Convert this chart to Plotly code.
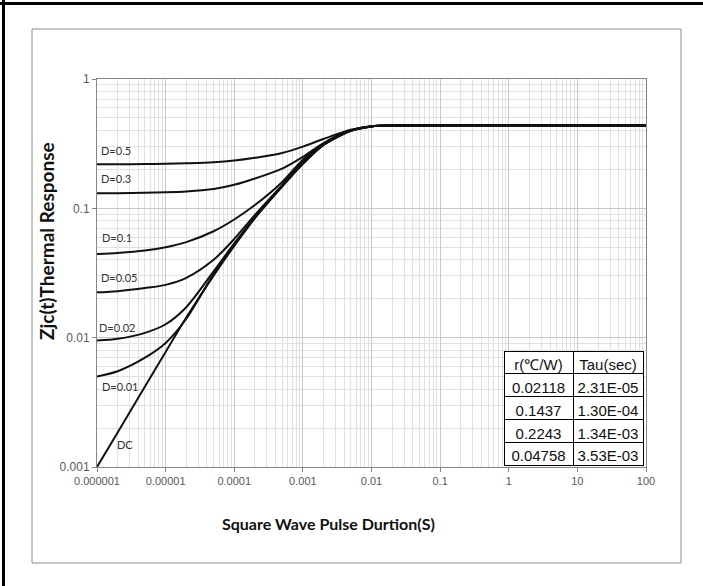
import math
import plotly.graph_objects as go

# Pulse duration grid (s)
t = [1e-6, 2e-6, 5e-6, 1e-5, 2e-5, 5e-5, 1e-4, 2e-4, 5e-4, 1e-3, 2e-3, 5e-3, 1e-2, 2e-2, 100]

# Zjc(t) thermal response per duty cycle
z_d05 = [0.219, 0.219, 0.220, 0.221, 0.223, 0.227, 0.234, 0.246, 0.268, 0.300, 0.344, 0.405, 0.432, 0.437, 0.437]
z_d03 = [0.131, 0.131, 0.132, 0.133, 0.135, 0.141, 0.152, 0.170, 0.203, 0.250, 0.320, 0.400, 0.431, 0.437, 0.437]
z_d01 = [0.0443, 0.0452, 0.0472, 0.0500, 0.0548, 0.0665, 0.0820, 0.106, 0.160, 0.238, 0.317, 0.400, 0.430, 0.437, 0.437]
z_d005 = [0.0224, 0.0229, 0.0242, 0.0256, 0.0290, 0.0400, 0.0580, 0.089, 0.152, 0.230, 0.313, 0.399, 0.430, 0.437, 0.437]
z_d002 = [0.0095, 0.0098, 0.0109, 0.0127, 0.0172, 0.0325, 0.0535, 0.0855, 0.149, 0.223, 0.310, 0.398, 0.430, 0.437, 0.437]
z_d001 = [0.0050, 0.0055, 0.0070, 0.0091, 0.0140, 0.0310, 0.0520, 0.0845, 0.148, 0.221, 0.309, 0.398, 0.430, 0.437, 0.437]
z_dc = [0.0010, 0.00185, 0.0042, 0.00776, 0.0143, 0.0302, 0.0513, 0.0841, 0.148, 0.221, 0.309, 0.398, 0.430, 0.437, 0.437]

series = [
    ("D=0.5", z_d05), ("D=0.3", z_d03), ("D=0.1", z_d01), ("D=0.05", z_d005),
    ("D=0.02", z_d002), ("D=0.01", z_d001), ("DC", z_dc),
]

# Curve label anchors (x, y in data units)
label_pos = {
    "D=0.5": (1.07e-6, 0.282), "D=0.3": (1.07e-6, 0.171), "D=0.1": (1.1e-6, 0.060),
    "D=0.05": (1.07e-6, 0.0294), "D=0.02": (1.0e-6, 0.0119), "D=0.01": (1.1e-6, 0.00422),
    "DC": (1.85e-6, 0.00150),
}

# Foster network parameters
r_vals = ["0.02118", "0.1437", "0.2243", "0.04758"]
tau_vals = ["2.31E-05", "1.30E-04", "1.34E-03", "3.53E-03"]

x_tickvals = [1e-6, 1e-5, 1e-4, 1e-3, 1e-2, 1e-1, 1, 10, 100]
x_ticktext = ["0.000001", "0.00001", "0.0001", "0.001", "0.01", "0.1", "1", "10", "100"]
y_tickvals = [0.001, 0.01, 0.1, 1]
y_ticktext = ["0.001", "0.01", "0.1", "1"]

W, H = 703, 586
L, R, T, B = 97, 57, 79, 119
PW, PH = W - L - R, H - T - B


def px(xp):
    return (xp - L) / PW


def py(yp):
    return (H - B - yp) / PH


def minor_vals(lo, hi):
    vals = []
    for e in range(lo, hi):
        for m in range(2, 10):
            vals.append(m * 10 ** e)
    return vals


fig = go.Figure()

for name, z in series:
    fig.add_trace(go.Scatter(
        x=t, y=z, mode="lines", name=name,
        line=dict(color="#111111", width=2, shape="spline", smoothing=0.8),
        showlegend=False, hoverinfo="skip",
    ))

for name, (lx, ly) in label_pos.items():
    fig.add_annotation(
        x=math.log10(lx), y=math.log10(ly), xref="x", yref="y", text=name,
        showarrow=False, xanchor="left", yanchor="middle",
        font=dict(family="Lato, Liberation Sans, sans-serif", size=11, color="#333333"),
    )

table_font = dict(family="Liberation Sans, Arial, sans-serif", size=15, color="#111111")
fig.add_trace(go.Table(
    domain=dict(x=[px(504), px(643)], y=[py(466), py(351)]),
    columnwidth=[69, 70],
    header=dict(
        values=["r(℃/W)", "Tau(sec)"],
        align="center", height=22.8,
        line=dict(color="#000000", width=1), fill=dict(color="white"),
        font=table_font,
    ),
    cells=dict(
        values=[r_vals, tau_vals],
        align="center", height=22.8,
        line=dict(color="#000000", width=1), fill=dict(color="white"),
        font=table_font,
    ),
))

axis_font = dict(family="Liberation Sans, Arial, sans-serif", size=11, color="#595959")

fig.update_xaxes(
    type="log", range=[-6, 2],
    tickmode="array", tickvals=x_tickvals, ticktext=x_ticktext,
    tickfont=axis_font, ticks="outside", ticklen=4, tickcolor="#868686",
    showline=True, linecolor="#868686", linewidth=1, mirror=True,
    showgrid=True, gridcolor="#c8c8c8", gridwidth=1,
    minor=dict(tickmode="array", tickvals=minor_vals(-6, 2), showgrid=True,
               gridcolor="#e0e0e0", gridwidth=1, ticks=""),
    zeroline=False,
)
fig.update_yaxes(
    type="log", range=[-3, 0],
    tickmode="array", tickvals=y_tickvals, ticktext=y_ticktext,
    tickfont=dict(family="Liberation Sans, Arial, sans-serif", size=12, color="#595959"),
    ticks="outside", ticklen=4, tickcolor="#868686",
    showline=True, linecolor="#868686", linewidth=1, mirror=True,
    showgrid=True, gridcolor="#c8c8c8", gridwidth=1,
    minor=dict(tickmode="array", tickvals=minor_vals(-3, 0), showgrid=True,
               gridcolor="#e0e0e0", gridwidth=1, ticks=""),
    zeroline=False,
)

fig.add_annotation(
    x=px(328), y=py(523), xref="paper", yref="paper",
    text="<b>Square Wave Pulse Durtion(S)</b>", showarrow=False,
    xanchor="center", yanchor="middle",
    font=dict(family="Lato, Open Sans, sans-serif", size=16, color="#111111"),
)
fig.add_annotation(
    x=px(47), y=py(241), xref="paper", yref="paper",
    text="<b>Zjc(t)Thermal Response</b>", showarrow=False, textangle=-90,
    xanchor="center", yanchor="middle",
    font=dict(family="Lato, Open Sans, sans-serif", size=19, color="#111111"),
)

# Chart-area frame and page borders
fig.add_shape(type="rect", xref="paper", yref="paper",
              x0=px(32), x1=px(681), y0=py(563), y1=py(29),
              line=dict(color="#8c8c8c", width=1), layer="below")
fig.add_shape(type="line", xref="paper", yref="paper",
              x0=px(0), x1=px(703), y0=py(3.5), y1=py(3.5),
              line=dict(color="#000000", width=3))
fig.add_shape(type="line", xref="paper", yref="paper",
              x0=px(3.5), x1=px(3.5), y0=py(0), y1=py(586),
              line=dict(color="#000000", width=3))

fig.update_layout(
    width=W, height=H,
    margin=dict(l=L, r=R, t=T, b=B),
    paper_bgcolor="white", plot_bgcolor="white",
    showlegend=False,
)

fig.write_html("out.html")
